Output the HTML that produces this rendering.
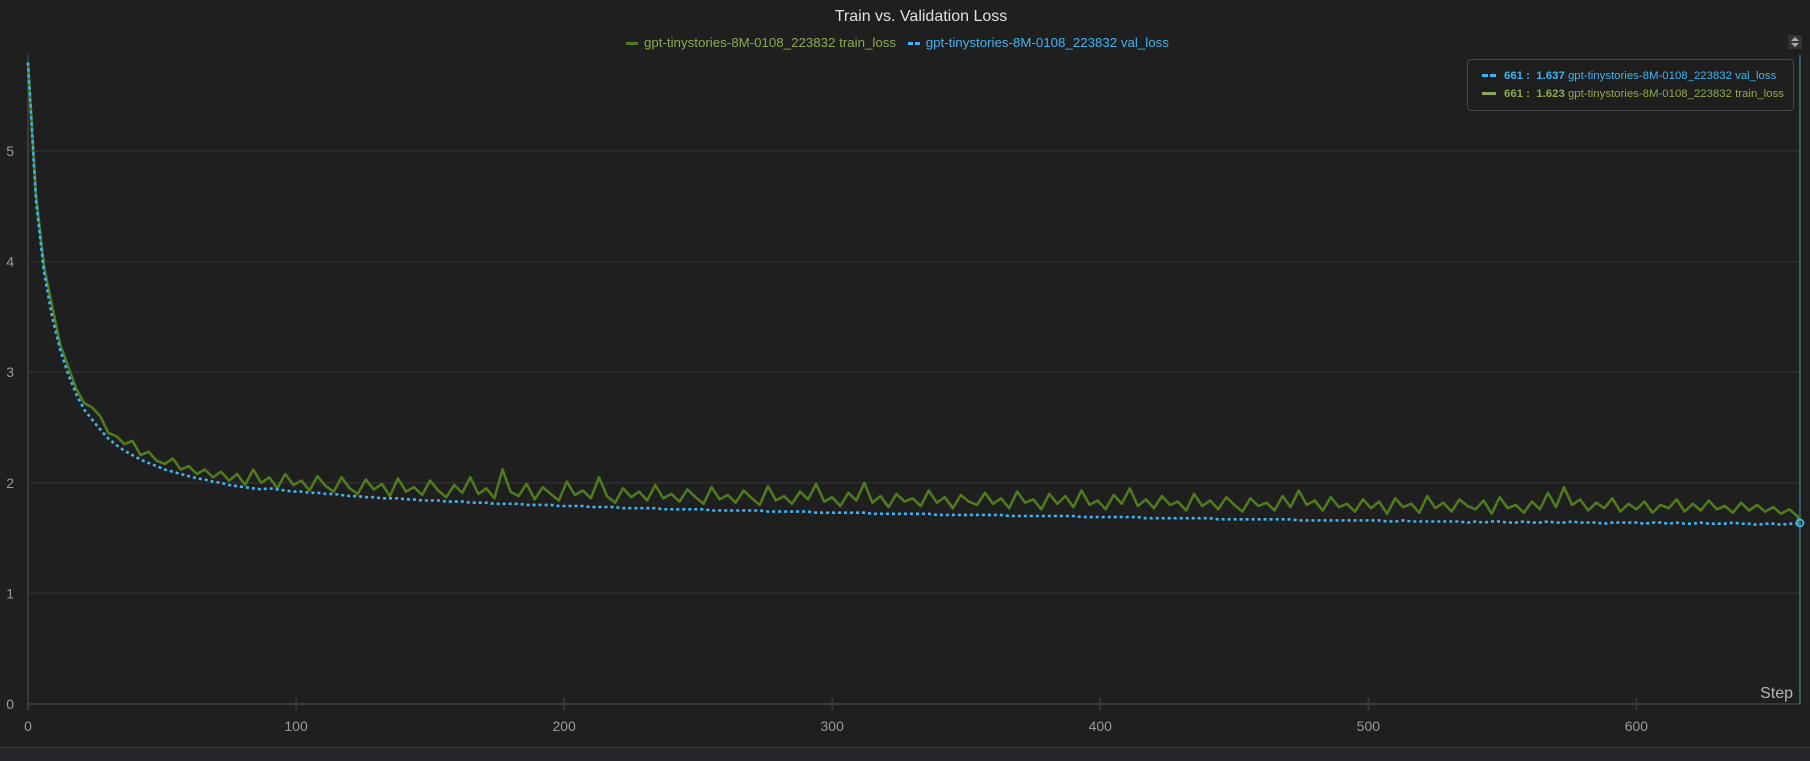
<!DOCTYPE html>
<html><head><meta charset="utf-8"><style>
html,body{margin:0;padding:0;background:#1f1f1f;}
body{width:1810px;height:760px;overflow:hidden;position:relative;font-family:"Liberation Sans",sans-serif;}
#title{position:absolute;left:0;width:1842px;top:8px;text-align:center;color:#e0e0e0;font-size:16px;}
#legend{position:absolute;top:34px;left:626px;font-size:13.3px;white-space:nowrap;}
#legend span{display:inline-block;vertical-align:middle}
#tip{position:absolute;left:1467px;top:59px;width:327px;height:52px;border:1px solid #444;border-radius:4px;background:#1e1e1e;font-size:11.4px;box-sizing:border-box;}
.row{position:absolute;left:14px;white-space:nowrap}
#scroll{position:absolute;left:1788px;top:35px;width:14px;height:14px;background:#333;}
#bottom{position:absolute;left:0;top:747px;width:1810px;height:13px;background:#25262a;border-top:1px solid #3a3a3a;}
</style></head><body>
<div id="title">Train vs. Validation Loss</div>
<div id="legend">
 <span style="color:#8fa84e"><span style="width:12px;height:3px;background:#4f7a1e;margin-right:6px"></span>gpt-tinystories-8M-0108_223832 train_loss</span>
 <span style="color:#3fb4f0;margin-left:8px"><span style="width:12px;height:3px;background:linear-gradient(90deg,#3fb4f0 40%,transparent 40%,transparent 60%,#3fb4f0 60%);margin-right:6px"></span>gpt-tinystories-8M-0108_223832 val_loss</span>
</div>
<div id="scroll"><svg width="14" height="14"><path d="M3 6 L7 2 L11 6Z M3 8 L7 12 L11 8Z" fill="#aaa"/></svg></div>
<svg id="chart" width="1810" height="760" style="position:absolute;left:0;top:0"></svg>
<div id="tip">
 <div class="row" style="top:10px;color:#3fb4f0"><span style="display:inline-block;width:14px;height:3px;vertical-align:middle;background:linear-gradient(90deg,#3fb4f0 42%,transparent 42%,transparent 58%,#3fb4f0 58%);margin-right:8px"></span><b>661 :&nbsp; 1.637</b> gpt-tinystories-8M-0108_223832 val_loss</div>
 <div class="row" style="top:28px;color:#8fa84e"><span style="display:inline-block;width:14px;height:3px;vertical-align:middle;background:#8fa84e;margin-right:8px"></span><b>661 :&nbsp; 1.623</b> gpt-tinystories-8M-0108_223832 train_loss</div>
</div>
<div id="bottom"></div>
<script>
const trainLoss=[5.80,4.60,3.95,3.60,3.25,3.05,2.85,2.72,2.68,2.60,
2.45,2.42,2.35,2.38,2.25,2.28,2.20,2.17,2.22,2.12,
2.15,2.08,2.12,2.05,2.10,2.02,2.08,1.98,2.12,2.00,
2.05,1.95,2.08,1.98,2.02,1.93,2.06,1.97,1.92,2.05,
1.95,1.90,2.03,1.94,1.99,1.88,2.04,1.92,1.96,1.89,
2.02,1.93,1.87,1.98,1.91,2.05,1.90,1.95,1.86,2.12,
1.92,1.88,1.99,1.85,1.96,1.90,1.84,2.01,1.89,1.93,
1.86,2.05,1.88,1.82,1.95,1.87,1.92,1.84,1.98,1.86,
1.90,1.83,1.94,1.87,1.81,1.96,1.85,1.89,1.82,1.93,
1.86,1.80,1.97,1.84,1.88,1.81,1.92,1.85,1.99,1.83,
1.87,1.79,1.91,1.84,2.00,1.82,1.88,1.78,1.90,1.83,
1.86,1.79,1.93,1.82,1.87,1.77,1.89,1.83,1.80,1.91,
1.81,1.86,1.77,1.92,1.82,1.85,1.76,1.90,1.81,1.88,
1.78,1.93,1.80,1.84,1.76,1.89,1.81,1.95,1.79,1.85,
1.77,1.88,1.80,1.83,1.75,1.90,1.79,1.84,1.76,1.87,
1.80,1.74,1.86,1.79,1.82,1.75,1.88,1.78,1.93,1.80,
1.84,1.75,1.87,1.78,1.81,1.74,1.85,1.77,1.83,1.72,
1.86,1.78,1.81,1.73,1.88,1.77,1.82,1.74,1.85,1.79,
1.76,1.84,1.72,1.87,1.77,1.80,1.73,1.83,1.76,1.91,
1.78,1.96,1.80,1.85,1.75,1.82,1.77,1.86,1.74,1.81,
1.76,1.83,1.73,1.80,1.77,1.85,1.74,1.81,1.75,1.84,
1.76,1.79,1.73,1.82,1.75,1.80,1.74,1.78,1.72,1.76,1.70,1.623];
const valLoss=[5.80,4.55,3.90,3.50,3.20,2.98,2.80,2.66,2.57,2.48,
2.40,2.34,2.29,2.25,2.21,2.18,2.15,2.12,2.10,2.08,
2.06,2.04,2.03,2.01,2.00,1.98,1.97,1.96,1.95,1.94,
1.95,1.94,1.93,1.92,1.92,1.91,1.91,1.90,1.90,1.89,
1.88,1.88,1.87,1.87,1.86,1.86,1.86,1.85,1.85,1.84,
1.84,1.84,1.83,1.83,1.83,1.82,1.82,1.82,1.81,1.81,
1.81,1.81,1.80,1.80,1.80,1.80,1.79,1.79,1.79,1.79,
1.78,1.78,1.78,1.78,1.77,1.77,1.77,1.77,1.77,1.76,
1.76,1.76,1.76,1.76,1.76,1.75,1.75,1.75,1.75,1.75,
1.75,1.75,1.74,1.74,1.74,1.74,1.74,1.74,1.73,1.73,
1.73,1.73,1.73,1.73,1.73,1.72,1.72,1.72,1.72,1.72,
1.72,1.72,1.72,1.71,1.71,1.71,1.71,1.71,1.71,1.71,
1.71,1.71,1.70,1.70,1.70,1.70,1.70,1.70,1.70,1.70,
1.70,1.69,1.69,1.69,1.69,1.69,1.69,1.69,1.69,1.68,
1.68,1.68,1.68,1.68,1.68,1.68,1.68,1.68,1.67,1.67,
1.67,1.67,1.67,1.67,1.67,1.67,1.67,1.67,1.66,1.66,
1.66,1.66,1.66,1.66,1.66,1.66,1.66,1.66,1.66,1.65,
1.65,1.66,1.65,1.65,1.65,1.65,1.65,1.65,1.65,1.64,
1.65,1.64,1.65,1.65,1.64,1.64,1.65,1.64,1.64,1.65,
1.64,1.64,1.65,1.64,1.64,1.64,1.63,1.64,1.64,1.64,
1.64,1.63,1.64,1.64,1.63,1.64,1.63,1.63,1.64,1.63,
1.63,1.63,1.64,1.63,1.63,1.62,1.63,1.63,1.62,1.63,1.63,1.637];
const stepInterval=3;
const lastStep=661;
const yTicks=[0,1,2,3,4,5];
const xTicks=[0,100,200,300,400,500,600];

const X0=28,PX=2.6807,Y0=704,PY=110.6,XR=1800;
const sx=s=>X0+s*PX, sy=v=>Y0-v*PY;
const svg=document.getElementById('chart');
const NS='http://www.w3.org/2000/svg';
function mk(t,a){const e=document.createElementNS(NS,t);for(const k in a)e.setAttribute(k,a[k]);svg.appendChild(e);return e;}
const steps=trainLoss.map((_,i)=>i===trainLoss.length-1?lastStep:i*stepInterval);

yTicks.forEach(t=>{
 const g=mk('line',{x1:X0,x2:XR,y1:sy(t),y2:sy(t),stroke:t===0?'#3a3a3a':'#2e2e2e','stroke-width':t===0?2:1.5});
 
 
 const tx=mk('text',{x:14,y:sy(t)+5,'text-anchor':'end',fill:'#9a9a9a','font-size':14,'font-family':'Liberation Sans, sans-serif'});
 tx.textContent=t;
 
 
});
const ya=mk('line',{x1:X0,x2:X0,y1:55,y2:Y0+6,stroke:'#3a3a3a','stroke-width':2});


xTicks.forEach(t=>{
 const l=mk('line',{x1:sx(t),x2:sx(t),y1:Y0-6,y2:Y0+6,stroke:'#3a3a3a','stroke-width':1.5});
 
 
 const tx=mk('text',{x:sx(t),y:Y0+27,'text-anchor':'middle',fill:'#9a9a9a','font-size':14,'font-family':'Liberation Sans, sans-serif'});
 tx.textContent=t;
 
 
});
const st=mk('text',{x:1793,y:698,'text-anchor':'end',fill:'#b5b5b5','font-size':16,'font-family':'Liberation Sans, sans-serif'});
st.textContent='Step';



const tp=mk('path',{d:trainLoss.map((v,i)=>(i?'L':'M')+sx(steps[i]).toFixed(1)+' '+sy(v).toFixed(1)).join(''),fill:'none',stroke:'#4f7a1e','stroke-width':2.6,'stroke-linejoin':'round'});


const vp=mk('path',{d:valLoss.map((v,i)=>(i?'L':'M')+sx(steps[i]).toFixed(1)+' '+sy(v).toFixed(1)).join(''),fill:'none',stroke:'#3fb4f0','stroke-width':2.6,'stroke-dasharray':'3 3'});



const cl=mk('line',{x1:sx(lastStep),x2:sx(lastStep),y1:55,y2:Y0,stroke:'#2a8f9a','stroke-width':1.2});


const c=mk('circle',{cx:sx(lastStep),cy:sy(valLoss[valLoss.length-1]),r:3.5,fill:'none',stroke:'#3fb4f0','stroke-width':1.8});


</script>
</body></html>
